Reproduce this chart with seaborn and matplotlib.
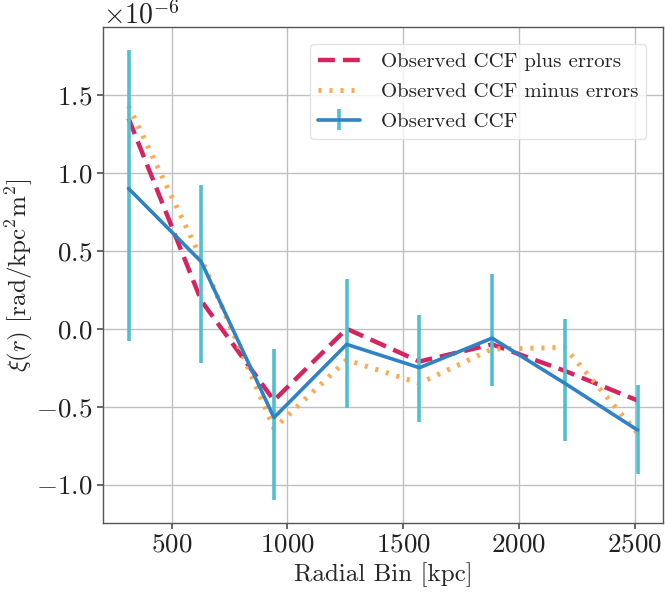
import numpy as np
import pandas as pd
import seaborn as sns
import matplotlib
matplotlib.use("Agg")
import matplotlib.pyplot as plt

# radial bins (kpc) and correlation values (units of 1e-6)
radial_bin = [314, 628, 942, 1256, 1570, 1884, 2198, 2512]
ccf_obs = [0.90, 0.43, -0.57, -0.10, -0.25, -0.06, -0.35, -0.65]
err_low = [-0.08, -0.22, -1.10, -0.51, -0.60, -0.365, -0.72, -0.935]
err_high = [1.79, 0.92, -0.13, 0.32, 0.09, 0.35, 0.065, -0.36]
ccf_plus = [1.35, 0.18, -0.46, 0.0, -0.21, -0.10, -0.27, -0.46]
ccf_minus = [1.43, 0.45, -0.64, -0.20, -0.35, -0.13, -0.12, -0.67]

scale = 1e-6


def graficar():
    sns.set_theme(style="whitegrid", rc={
        "axes.edgecolor": "#555555",
        "axes.linewidth": 1.0,
        "grid.color": "#c0c0c0",
        "grid.linewidth": 1.0,
        "xtick.bottom": True,
        "ytick.left": True,
        "xtick.color": "#555555",
        "ytick.color": "#555555",
        "xtick.major.size": 4,
        "ytick.major.size": 4,
        "xtick.labelcolor": "#222222",
        "ytick.labelcolor": "#222222",
    })
    plt.rcParams["font.family"] = "serif"
    plt.rcParams["font.serif"] = ["cmr10", "DejaVu Serif"]
    plt.rcParams["mathtext.fontset"] = "cm"
    plt.rcParams["axes.formatter.use_mathtext"] = True

    df = pd.DataFrame({
        "r": radial_bin,
        "plus": np.array(ccf_plus) * scale,
        "minus": np.array(ccf_minus) * scale,
    })

    fig, ax = plt.subplots(figsize=(6.65, 5.92), dpi=100)
    sns.lineplot(data=df, x="r", y="plus", ax=ax, color="#d62460", lw=3.2,
                 label="Observed CCF plus errors")
    ax.lines[-1].set_dashes([3.8, 1.8])
    sns.lineplot(data=df, x="r", y="minus", ax=ax, color="#ffaa50", lw=3.6,
                 label="Observed CCF minus errors")
    ax.lines[-1].set_dashes([0.6, 1.6])

    y = np.array(ccf_obs) * scale
    lo = y - np.array(err_low) * scale
    hi = np.array(err_high) * scale - y
    ax.errorbar(radial_bin, y, yerr=[lo, hi], color="#2f83c4", ecolor="#50bfcf",
                elinewidth=2.6, lw=2.6, capsize=0, label="Observed CCF")

    ax.set_xlabel("Radial Bin [kpc]", fontsize=18)
    ax.set_ylabel(r"$\xi(r)$ [rad/kpc$^2$m$^2$]", fontsize=18, labelpad=1)
    ax.tick_params(labelsize=19.5)
    ax.yaxis.get_offset_text().set_fontsize(20)
    ax.set_xticks([500, 1000, 1500, 2000, 2500])

    leg = ax.legend(loc="upper right", fontsize=15, frameon=True,
                    handlelength=2.0, handletextpad=1.0, labelspacing=0.55,
                    borderaxespad=0.8)
    leg.get_frame().set_edgecolor("#dddddd")

    fig.subplots_adjust(left=0.155, right=0.997, top=0.954, bottom=0.117)
    fig.savefig("out.png", dpi=100)


if __name__ == "__main__":
    graficar()
